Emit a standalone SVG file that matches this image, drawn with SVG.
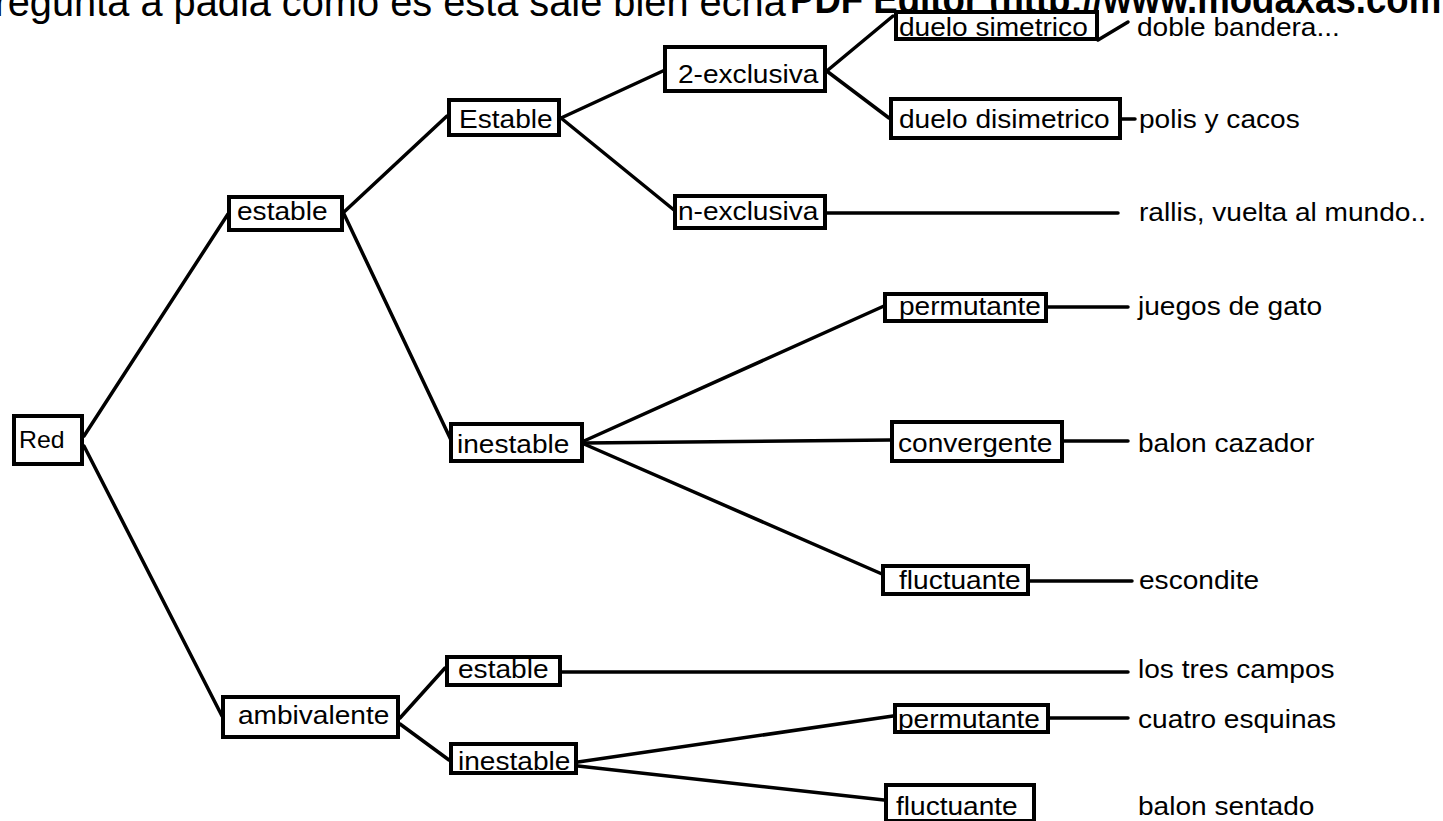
<svg xmlns="http://www.w3.org/2000/svg" width="1443" height="821" viewBox="0 0 1443 821">
  <style>
    .box { fill: #fff; stroke: #000; stroke-width: 4; }
    .lbl { font-family: "Liberation Sans", Arial, sans-serif; font-size: 26px; fill: #000; }
    .head { font-family: "Liberation Sans", Arial, sans-serif; font-size: 41px; fill: #000; }
    .headb { font-family: "Liberation Sans", Arial, sans-serif; font-size: 40px; font-weight: bold; fill: #000; }
    #connectors line { stroke: #000; stroke-width: 3.5; stroke-linecap: round; }
  </style>
  <rect width="1443" height="821" fill="#fff"/>

  <!-- heading lines, clipped by the top edge -->
  <text class="head" transform="matrix(0.97 0 0 1 -32 16)">Pregunta a padia como es esta sale bien echa</text>
  <text class="headb" transform="matrix(0.915 0 0 1 790 13)">PDF Editor (http://www.modaxas.com</text>

  <g id="connectors">
    <line x1="84" y1="436" x2="228" y2="214"/>
    <line x1="84" y1="446" x2="222" y2="716"/>
    <line x1="344" y1="212" x2="447" y2="116"/>
    <line x1="344" y1="214" x2="451" y2="440"/>
    <line x1="561" y1="118" x2="665" y2="70"/>
    <line x1="561" y1="118" x2="674" y2="210"/>
    <line x1="828" y1="70" x2="893" y2="16"/>
    <line x1="828" y1="72" x2="889" y2="118"/>
    <line x1="1098" y1="40" x2="1128" y2="22"/>
    <line x1="1122" y1="119" x2="1135" y2="119"/>
    <line x1="827" y1="213" x2="1118" y2="213"/>
    <line x1="584" y1="441" x2="884" y2="306"/>
    <line x1="584" y1="443" x2="890" y2="440"/>
    <line x1="584" y1="444" x2="882" y2="574"/>
    <line x1="1048" y1="307" x2="1128" y2="307"/>
    <line x1="1064" y1="441" x2="1128" y2="441"/>
    <line x1="1030" y1="581" x2="1132" y2="581"/>
    <line x1="400" y1="718" x2="445" y2="668"/>
    <line x1="400" y1="724" x2="449" y2="760"/>
    <line x1="562" y1="672" x2="1128" y2="672"/>
    <line x1="578" y1="762" x2="893" y2="716"/>
    <line x1="578" y1="766" x2="884" y2="800"/>
    <line x1="1050" y1="718" x2="1128" y2="718"/>
  </g>

  <g id="n-red"><rect class="box" x="14" y="416" width="68" height="48"/><text class="lbl" style="font-size:23px" transform="matrix(1.08 0 0 1 19 448)">Red</text></g>
  <g id="n-estable"><rect class="box" x="229" y="197" width="113" height="33"/><text class="lbl" transform="matrix(1.08 0 0 1 237 220)">estable</text></g>
  <g id="n-ambivalente"><rect class="box" x="223" y="697" width="175" height="40"/><text class="lbl" transform="matrix(1.08 0 0 1 238 724)">ambivalente</text></g>
  <g id="n-Estable"><rect class="box" x="449" y="100" width="110" height="35"/><text class="lbl" transform="matrix(1.08 0 0 1 459 128)">Estable</text></g>
  <g id="n-inestable"><rect class="box" x="451" y="424" width="131" height="37"/><text class="lbl" transform="matrix(1.08 0 0 1 457 453)">inestable</text></g>
  <g id="n-2excl"><rect class="box" x="665" y="47" width="160" height="44"/><text class="lbl" transform="matrix(1.08 0 0 1 678 83)">2-exclusiva</text></g>
  <g id="n-nexcl"><rect class="box" x="675" y="196" width="150" height="32"/><text class="lbl" transform="matrix(1.08 0 0 1 678 220)">n-exclusiva</text></g>
  <g id="n-duelo-sim"><rect class="box" x="896" y="12" width="201" height="27"/><text class="lbl" transform="matrix(1.08 0 0 1 899 36)">duelo simetrico</text></g>
  <g id="n-duelo-dis"><rect class="box" x="891" y="99" width="229" height="39"/><text class="lbl" transform="matrix(1.08 0 0 1 899 128)">duelo disimetrico</text></g>
  <g id="n-permutante"><rect class="box" x="885" y="294" width="161" height="27"/><text class="lbl" transform="matrix(1.08 0 0 1 899 315)">permutante</text></g>
  <g id="n-convergente"><rect class="box" x="892" y="422" width="170" height="39"/><text class="lbl" transform="matrix(1.08 0 0 1 898 452)">convergente</text></g>
  <g id="n-fluctuante"><rect class="box" x="883" y="566" width="145" height="28"/><text class="lbl" transform="matrix(1.08 0 0 1 899 589)">fluctuante</text></g>
  <g id="n-estable2"><rect class="box" x="447" y="657" width="113" height="28"/><text class="lbl" transform="matrix(1.08 0 0 1 458 678)">estable</text></g>
  <g id="n-inestable2"><rect class="box" x="451" y="744" width="125" height="29"/><text class="lbl" transform="matrix(1.08 0 0 1 458 770)">inestable</text></g>
  <g id="n-permutante2"><rect class="box" x="895" y="705" width="153" height="27"/><text class="lbl" transform="matrix(1.08 0 0 1 898 728)">permutante</text></g>
  <g id="n-fluctuante2"><rect class="box" x="886" y="785" width="148" height="36"/><text class="lbl" transform="matrix(1.08 0 0 1 896 815)">fluctuante</text></g>

  <!-- example games -->
  <g id="examples">
    <text class="lbl" transform="matrix(1.08 0 0 1 1137 36)">doble bandera...</text>
    <text class="lbl" transform="matrix(1.08 0 0 1 1139 128)">polis y cacos</text>
    <text class="lbl" transform="matrix(1.08 0 0 1 1139 221)">rallis, vuelta al mundo..</text>
    <text class="lbl" transform="matrix(1.08 0 0 1 1138 315)">juegos de gato</text>
    <text class="lbl" transform="matrix(1.08 0 0 1 1138 452)">balon cazador</text>
    <text class="lbl" transform="matrix(1.08 0 0 1 1139 589)">escondite</text>
    <text class="lbl" transform="matrix(1.08 0 0 1 1138 678)">los tres campos</text>
    <text class="lbl" transform="matrix(1.08 0 0 1 1138 728)">cuatro esquinas</text>
    <text class="lbl" transform="matrix(1.08 0 0 1 1138 815)">balon sentado</text>
  </g>
</svg>
